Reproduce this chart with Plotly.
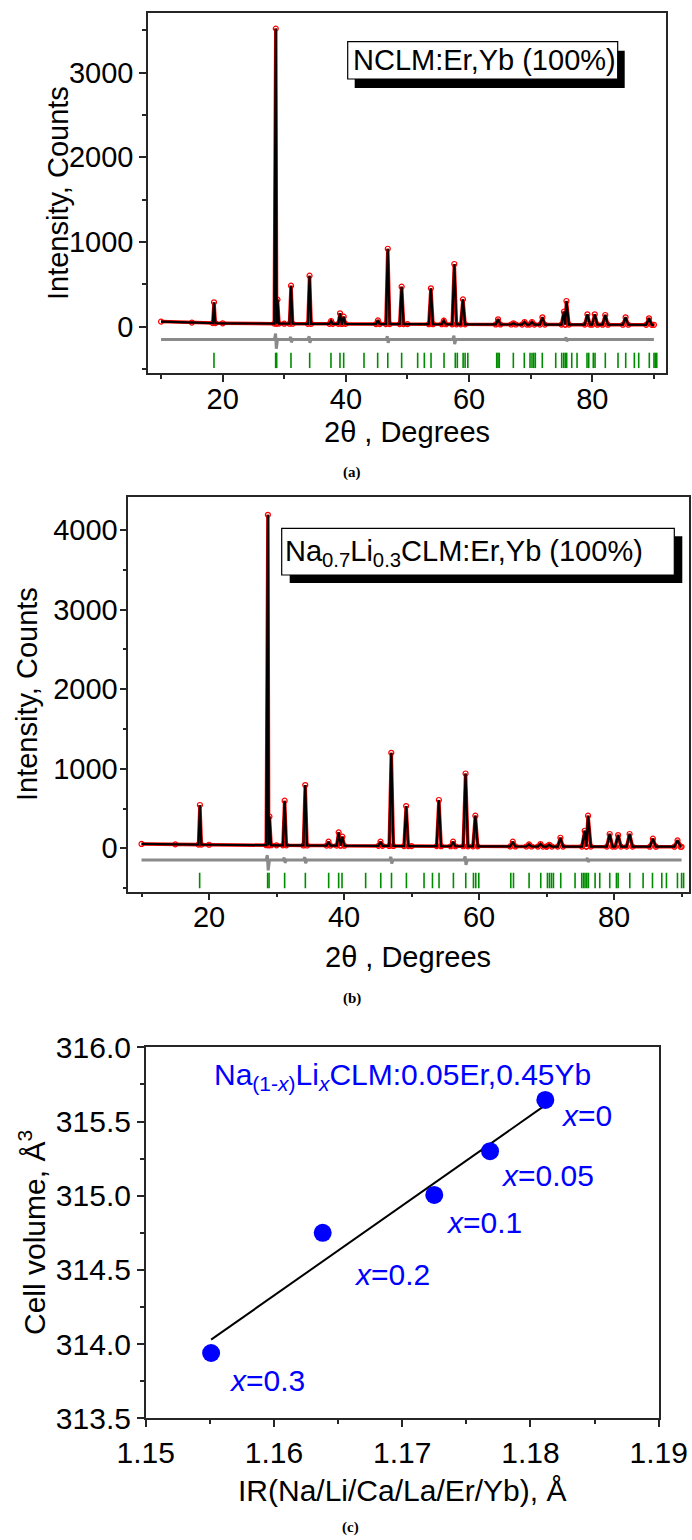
import numpy as np
import plotly.graph_objects as go

W, H = 692, 1540
FONT = "Liberation Sans, Arial, sans-serif"
AXIS_COLOR = "#262626"


def px(x):
    return x / W


def py(y):
    return 1 - y / H


# ---------------- (a) NCLM:Er,Yb : Rietveld refinement ----------------
a_bg_x = [10, 15, 20, 30, 50, 70, 90]
a_bg_y = [60, 48, 40, 35, 30, 25, 22]
a_peak_pos = [18.6, 28.62, 28.9, 31.1, 34.1, 37.6, 39.05, 39.65, 45.2, 46.8,
              49.05, 53.8, 55.9, 57.6, 59.0, 64.7, 67.2, 69.0, 70.2, 71.9,
              75.4, 75.8, 79.2, 80.4, 82.1, 85.4, 89.2]
a_peak_top = [288, 3520, 320, 484, 602, 67, 158, 118, 75, 920,
              472, 453, 71, 740, 323, 87, 40, 55, 55, 111,
              177, 303, 146, 146, 138, 111, 99]
a_diff_level = -150
a_diff_pos = [28.65, 31.1, 34.1, 46.8, 57.6, 75.8]
a_diff_up = [70, 30, 35, 35, 45, 20]
a_diff_dn = [110, 35, 40, 40, 55, 20]
a_bragg = [18.59, 28.6, 28.77, 31.09, 34.12, 37.58, 39.04, 39.64, 42.94, 45.16,
           46.8, 49.05, 51.65, 52.73, 53.82, 55.93, 57.76, 58.09, 59.03, 59.35,
           59.79, 64.48, 64.69, 64.9, 67.18, 68.96, 69.89, 70.21, 70.49, 70.75,
           71.88, 74.06, 75.03, 75.36, 75.62, 75.84, 76.66, 77.52, 79.14, 79.42,
           80.16, 80.44, 82.11, 84.17, 85.42, 86.82, 87.53, 89.25, 90.01, 90.23,
           90.46]

# ---------------- (b) Na0.7Li0.3CLM:Er,Yb ----------------
b_bg_x = [10, 15, 20, 30, 50, 70, 90]
b_bg_y = [55, 50, 45, 38, 28, 22, 20]
b_peak_pos = [18.65, 28.72, 28.95, 31.2, 34.25, 37.7, 39.2, 39.75, 45.4, 47.0,
              49.2, 54.05, 56.15, 58.0, 59.45, 65.0, 67.4, 69.1, 70.4, 72.05,
              75.65, 76.15, 79.35, 80.6, 82.3, 85.75, 89.4]
b_peak_top = [544, 4190, 400, 598, 795, 83, 201, 146, 83, 1200,
              531, 607, 83, 940, 410, 83, 50, 54, 45, 133,
              221, 410, 180, 167, 180, 121, 100]
b_diff_level = -147
b_diff_pos = [28.7, 31.2, 34.25, 47.0, 58.0, 76.1]
b_diff_up = [60, 30, 35, 40, 45, 25]
b_diff_dn = [130, 35, 40, 45, 60, 25]
b_bragg = [18.61, 28.68, 28.89, 31.2, 34.27, 37.72, 39.2, 39.7, 43.2, 45.44,
           47.03, 49.24, 51.85, 53.1, 54.07, 56.2, 58.03, 59.17, 59.51, 59.96,
           64.7, 65.1, 67.41, 69.14, 70.13, 70.43, 70.73, 71.02, 72.1, 74.22,
           75.21, 75.47, 75.7, 75.96, 76.2, 77.19, 77.88, 79.36, 80.35, 80.6,
           82.33, 84.3, 85.69, 87.07, 87.76, 89.39, 90.0, 90.3]

# ---------------- (c) cell volume vs ionic radius ----------------
c_labels = ["0", "0.05", "0.1", "0.2", "0.3"]
c_ir = [1.18116, 1.17685, 1.1725, 1.1638, 1.1551]
c_volume = [315.645, 315.30, 315.005, 314.75, 313.94]
c_fit_ir = [1.1551, 1.18116]
c_fit_volume = [314.03, 315.61]


def profile(bg_x, bg_y, pos, top):
    """Polyline through the background with a sharp spike at every reflection."""
    xs, ys = [], []
    spans = []
    n = len(pos)
    for i, (p, t) in enumerate(zip(pos, top)):
        hw = 0.18 + 0.0035 * (p - 10)
        left = p - hw
        right = p + hw
        if i > 0:
            left = max(left, (pos[i - 1] + p) / 2)
        if i < n - 1:
            right = min(right, (p + pos[i + 1]) / 2)
        spans.append((left, right))
        for fx, fy in ((left, None), (p, t), (right, None)):
            xs.append(fx)
            ys.append(float(np.interp(fx, bg_x, bg_y)) if fy is None else fy)
    for kx, ky in zip(bg_x, bg_y):
        if not any(l <= kx <= r for l, r in spans):
            xs.append(kx)
            ys.append(ky)
    order = np.argsort(xs, kind="stable")
    return np.array(xs)[order], np.array(ys)[order]


def difference(level, pos, up, dn, x_min=10, x_max=90):
    xs, ys = [x_min], [level]
    for p, u, d in zip(pos, up, dn):
        xs += [p - 0.25, p - 0.06, p + 0.06, p + 0.25]
        ys += [level, level + u, level - d, level]
    xs.append(x_max)
    ys.append(level)
    return xs, ys


fig = go.Figure()


def add_pattern(bg_x, bg_y, pos, top, dlev, dpos, dup, ddn, bragg, bragg_y, xa, ya):
    x, y = profile(bg_x, bg_y, pos, top)
    dx, dy = difference(dlev, dpos, dup, ddn)
    fig.add_trace(go.Scatter(x=dx, y=dy, mode="lines", xaxis=xa, yaxis=ya,
                             line=dict(color="#8a8a8a", width=3), showlegend=False))
    fig.add_trace(go.Scatter(x=x, y=y, mode="lines+markers", xaxis=xa, yaxis=ya,
                             line=dict(color="#ff0000", width=3.5),
                             marker=dict(symbol="circle-open", size=5, color="#ff0000",
                                         line=dict(width=1.2)),
                             showlegend=False))
    fig.add_trace(go.Scatter(x=x, y=y, mode="lines", xaxis=xa, yaxis=ya,
                             line=dict(color="black", width=2.2), showlegend=False))
    fig.add_trace(go.Scatter(x=bragg, y=[bragg_y] * len(bragg), mode="markers",
                             xaxis=xa, yaxis=ya,
                             marker=dict(symbol="line-ns", size=11,
                                         line=dict(color="#008c00", width=1.6)),
                             showlegend=False))


add_pattern(a_bg_x, a_bg_y, a_peak_pos, a_peak_top, a_diff_level, a_diff_pos,
            a_diff_up, a_diff_dn, a_bragg, -398, "x", "y")
add_pattern(b_bg_x, b_bg_y, b_peak_pos, b_peak_top, b_diff_level, b_diff_pos,
            b_diff_up, b_diff_dn, b_bragg, -405, "x2", "y2")

fig.add_trace(go.Scatter(x=c_fit_ir, y=c_fit_volume, mode="lines", xaxis="x3", yaxis="y3",
                         line=dict(color="black", width=2), showlegend=False))
fig.add_trace(go.Scatter(x=c_ir, y=c_volume, mode="markers", xaxis="x3", yaxis="y3",
                         marker=dict(color="#0000ff", size=18), showlegend=False))

TICK_SIZE = 29
C_SIZE = 30

axis_style = dict(
    showline=True, linecolor=AXIS_COLOR, linewidth=1.5, mirror=True,
    ticks="outside", ticklen=7, tickwidth=1.5, tickcolor=AXIS_COLOR,
    showgrid=False, zeroline=False, automargin=False,
    tickfont=dict(family=FONT, size=TICK_SIZE, color="black"),
    minor=dict(ticks="outside", ticklen=4, tickwidth=1.5, tickcolor=AXIS_COLOR,
               showgrid=False),
)

fig.update_layout(
    template="none",
    width=W, height=H, autosize=False,
    margin=dict(l=0, r=0, t=0, b=0, pad=0),
    paper_bgcolor="white", plot_bgcolor="white",
    xaxis=dict(axis_style, domain=[px(148), px(666)], range=[7.88, 91.96],
               dtick=20, tick0=0, anchor="y", ticklabelstandoff=-8,
               minor=dict(axis_style["minor"], dtick=10)),
    yaxis=dict(axis_style, domain=[py(373), py(13)], range=[-547, 3704],
               dtick=1000, tick0=0, anchor="x", minor=dict(axis_style["minor"], dtick=500)),
    xaxis2=dict(axis_style, domain=[px(128.3), px(689)], range=[8.04, 91.1],
                dtick=20, tick0=0, anchor="y2", ticklabelstandoff=-8,
                minor=dict(axis_style["minor"], dtick=10)),
    yaxis2=dict(axis_style, domain=[py(891.7), py(497.3)], range=[-545, 4410],
                dtick=1000, tick0=0, anchor="x2", ticklabelstandoff=-4,
                minor=dict(axis_style["minor"], dtick=500)),
    xaxis3=dict(axis_style, domain=[px(145.7), px(658.7)], range=[1.15, 1.19],
                dtick=0.01, tick0=1.15, tickformat=".2f", anchor="y3",
                tickfont=dict(family=FONT, size=C_SIZE, color="black"),
                minor=dict(axis_style["minor"], dtick=0.005)),
    yaxis3=dict(axis_style, domain=[py(1418.3), py(1047.3)], range=[313.5, 316.0],
                dtick=0.5, tick0=313.5, tickformat=".1f", anchor="x3",
                tickfont=dict(family=FONT, size=C_SIZE, color="black"),
                minor=dict(axis_style["minor"], dtick=0.25)),
)

shapes = []
annotations = []


def boxed_label(x0, y0, x1, y1, dx, dy, text, tx, ty):
    shapes.append(dict(type="rect", xref="paper", yref="paper",
                       x0=px(x0 + dx), x1=px(x1 + dx), y0=py(y1 + dy), y1=py(y0 + dy),
                       fillcolor="black", line=dict(width=0), layer="above"))
    shapes.append(dict(type="rect", xref="paper", yref="paper",
                       x0=px(x0), x1=px(x1), y0=py(y1), y1=py(y0),
                       fillcolor="white", line=dict(color="black", width=1.2), layer="above"))
    annotations.append(dict(xref="paper", yref="paper", x=px(tx), y=py(ty),
                            xanchor="left", yanchor="middle", showarrow=False, text=text,
                            font=dict(family=FONT, size=TICK_SIZE, color="black")))


boxed_label(347.7, 41.7, 617.7, 79.0, 7, 9, "NCLM:Er,Yb (100%)", 351, 60)
boxed_label(281.7, 528.3, 674.3, 575.0, 8, 8,
            "Na<sub>0.7</sub>Li<sub>0.3</sub>CLM:Er,Yb (100%)", 283, 553)


def text(x, y, s, size=TICK_SIZE, angle=0, color="black", family=FONT, xanchor="center"):
    annotations.append(dict(xref="paper", yref="paper", x=px(x), y=py(y), text=s,
                            showarrow=False, textangle=angle, xanchor=xanchor,
                            yanchor="middle",
                            font=dict(family=family, size=size, color=color)))


text(58, 193, "Intensity, Counts", angle=-90)
text(407, 432, "2θ , Degrees")
text(27, 694, "Intensity, Counts", angle=-90)
text(408, 957, "2θ , Degrees")
text(32, 1233, "Cell volume, Å<sup>3</sup>", size=C_SIZE, angle=-90)
text(402, 1490, "IR(Na/Li/Ca/La/Er/Yb), Å", size=C_SIZE)
text(212, 1076, "Na<sub>(1-<i>x</i>)</sub>Li<sub><i>x</i></sub>CLM:0.05Er,0.45Yb",
     size=C_SIZE, color="#0000ff", xanchor="left")

CAPTION_FONT = "Liberation Serif, Times New Roman, serif"
text(352, 472, "<b>(a)</b>", size=15, family=CAPTION_FONT)
text(352, 998, "<b>(b)</b>", size=15, family=CAPTION_FONT)
text(350, 1527, "<b>(c)</b>", size=15, family=CAPTION_FONT)

# composition labels next to each point
label_shift = {"0": (14, -16), "0.05": (9, -24), "0.1": (10, -28),
               "0.2": (29, -42), "0.3": (16, -27)}
for lab, xv, yv in zip(c_labels, c_ir, c_volume):
    sx, sy = label_shift[lab]
    annotations.append(dict(xref="x3", yref="y3", x=xv, y=yv, xanchor="left",
                            yanchor="middle", xshift=sx, yshift=sy, showarrow=False,
                            text=f"<i>x</i>={lab}",
                            font=dict(family=FONT, size=C_SIZE, color="#0000ff")))

fig.update_layout(shapes=shapes, annotations=annotations)
fig.write_html("out.html")
